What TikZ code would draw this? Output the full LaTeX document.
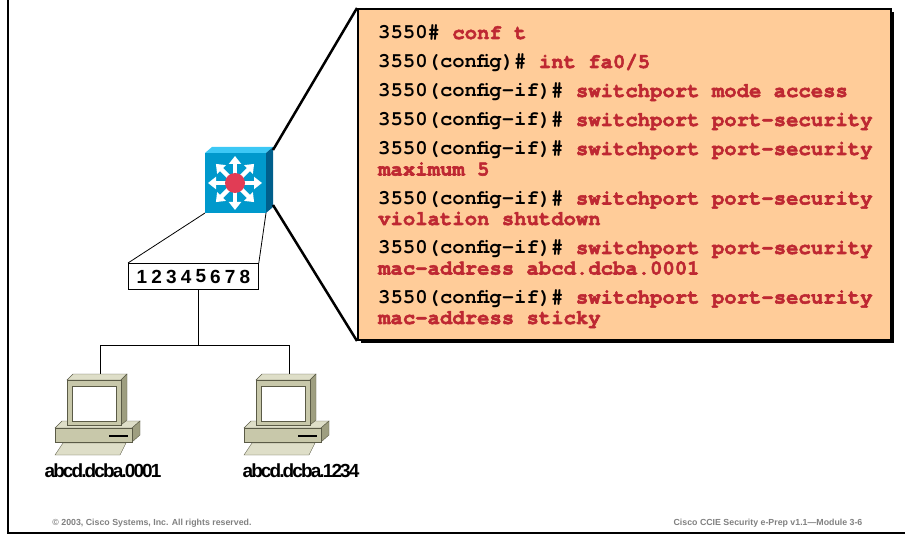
\documentclass[tikz,border=0pt]{standalone}
\usepackage{fontspec}
\setsansfont{Liberation Sans}
\setmonofont{texgyrecursor}[Extension=.otf, UprightFont=*-regular, BoldFont=*-bold]
\newfontfamily\cmdfont{texgyrecursor}[Extension=.otf, UprightFont=*-regular,
  BoldFont=*-bold, BoldFeatures={FakeBold=2.5}]
\newfontfamily\tightfont{Liberation Sans}[LetterSpace=-10]
\usetikzlibrary{arrows.meta,shadows}

\definecolor{boxorange}{RGB}{255,204,153}
\definecolor{cmdred}{RGB}{190,40,50}
\definecolor{swfront}{RGB}{0,153,204}
\definecolor{swtop}{RGB}{60,200,245}
\definecolor{swside}{RGB}{0,95,140}
\definecolor{hubred}{RGB}{225,60,85}
\definecolor{pcfront}{RGB}{200,200,170}
\definecolor{pctop}{RGB}{222,222,200}
\definecolor{pcside}{RGB}{158,158,128}
\definecolor{pcline}{RGB}{90,90,70}
\definecolor{footgray}{RGB}{128,128,128}

% red part of a command line
\newcommand\cmd[1]{{\cmdfont\bfseries\color{cmdred}#1}}

\tikzset{
  pc/.pic={
    % system unit
    \filldraw[fill=pctop, draw=pcline] (-45,54) -- (-38,47) -- (40,47) -- (32,54) -- cycle;
    \filldraw[fill=pcside, draw=pcline] (32,54) -- (40,47) -- (40,61) -- (32,68) -- cycle;
    \filldraw[fill=pcfront, draw=pcline] (-45,54) rectangle (32,68);
    \draw[line width=1.6pt] (9,62) -- (28,62);
    % keyboard
    \filldraw[fill=pctop, draw=pcline] (-37,69) -- (26,69) -- (20,81) -- (-45,81) -- cycle;
    % monitor
    \filldraw[fill=pctop, draw=pcline] (-33,6) -- (-27,0) -- (27,0) -- (21,6) -- cycle;
    \filldraw[fill=pcside, draw=pcline] (21,6) -- (27,0) -- (27,46) -- (21,51) -- cycle;
    \filldraw[fill=pcfront, draw=pcline] (-33,6) rectangle (21,51);
    \filldraw[fill=white, draw=pcline] (-28,12) rectangle (16,47);
  }
}

\begin{document}
\begin{tikzpicture}[x=1pt,y=-1pt,
    wire/.style={draw=black,line width=0.8pt},
    callout/.style={draw=black,line width=2.5pt},
    spoke/.style={white,line width=4.5pt,-{Triangle[width=12pt,length=8pt]}},
    cfgbox/.style={draw=black,line width=2pt,fill=boxorange,inner sep=0pt,
      drop shadow={shadow xshift=3pt,shadow yshift=-3pt,opacity=1,fill=black}},
    footer/.style={text=footgray,font=\sffamily\bfseries\fontsize{8.8}{10}\selectfont},
    pclabel/.style={font=\tightfont\bfseries\fontsize{19}{21}\selectfont}]
  \useasboundingbox (0,0) rectangle (905,537);
  \draw[line width=2pt] (8,0) -- (8,533) -- (905,533);

  % config box
  \node[cfgbox, minimum width=533pt, minimum height=331pt, anchor=north west] (cfg) at (357,8) {};
  \node[anchor=base west, text width=515pt, align=left, inner sep=0pt,
    font=\ttfamily\bfseries\fontsize{20.6}{20.5}\selectfont] (cmds) at (378,39) {%
    \spaceskip=0pt\xspaceskip=0pt
    3550\# \cmd{conf t}\\[8.5pt]
    3550(config)\# \cmd{int fa0/5}\\[8.5pt]
    3550(config-if)\# \cmd{switchport mode access}\\[8.5pt]
    3550(config-if)\# \cmd{switchport port-security}\\[8.5pt]
    3550(config-if)\# \cmd{switchport port-security}\\
    \cmd{maximum 5}\\[8.5pt]
    3550(config-if)\# \cmd{switchport port-security}\\
    \cmd{violation shutdown}\\[8.5pt]
    3550(config-if)\# \cmd{switchport port-security}\\
    \cmd{mac-address abcd.dcba.0001}\\[8.5pt]
    3550(config-if)\# \cmd{switchport port-security}\\
    \cmd{mac-address sticky}};

  % multilayer switch
  \coordinate (hubc) at (235,183);
  \coordinate (swtr) at (273,150);
  \coordinate (swbr) at (273,205);
  \coordinate (swbl) at (205,213);
  \coordinate (swbm) at (266,213);
  \fill[swtop] (205,153) -- (212,147) -- (273,147) -- (266,153) -- cycle;
  \fill[swside] (266,153) -- (273,147) -- (273,207) -- (266,213) -- cycle;
  \fill[swfront] (205,153) rectangle (266,213);
  \foreach \a in {0,45,...,315}
    \draw[spoke] ([shift={(\a:8)}]hubc) -- ([shift={(\a:27)}]hubc);
  \fill[hubred] (hubc) circle (10);

  \draw[callout] (swtr) -- (cfg.north west);
  \draw[callout] (swbr) -- (cfg.south west);

  % port strip
  \node[draw, line width=0.8pt, minimum width=130pt, minimum height=26pt,
    inner sep=0pt, anchor=north west] (ports) at (128,263) {};
  \foreach \n in {1,...,8}
    \node[font=\sffamily\bfseries\fontsize{19}{20}\selectfont, inner sep=0pt] (p\n)
      at ({142+14.7*(\n-1)},276.5) {\n};
  \draw[wire] (swbl) -- (ports.north west);
  \draw[wire] (swbm) -- (ports.north east);

  % hosts
  \coordinate (hub) at (198,345);
  \coordinate (busl) at (100,345);
  \coordinate (busr) at (289,345);
  \coordinate (pca) at (100,374);
  \coordinate (pcb) at (289,374);
  \draw[wire] (hub |- ports.south) -- (hub);
  \draw[wire] (busl) -- (busr);
  \draw[wire] (busl) -- (pca);
  \draw[wire] (busr) -- (pcb);
  \pic at (pca) {pc};
  \pic at (pcb) {pc};
  \node[pclabel] (maca) at (103,471) {abcd.dcba.0001};
  \node[pclabel] (macb) at (301,471) {abcd.dcba.1234};

  \node[footer] (copy) at (152,523) {\textcopyright{} 2003, Cisco Systems, Inc. All rights reserved.};
  \node[footer] (title) at (768,523) {Cisco CCIE Security e-Prep v1.1—Module 3-6};
\end{tikzpicture}
\end{document}
